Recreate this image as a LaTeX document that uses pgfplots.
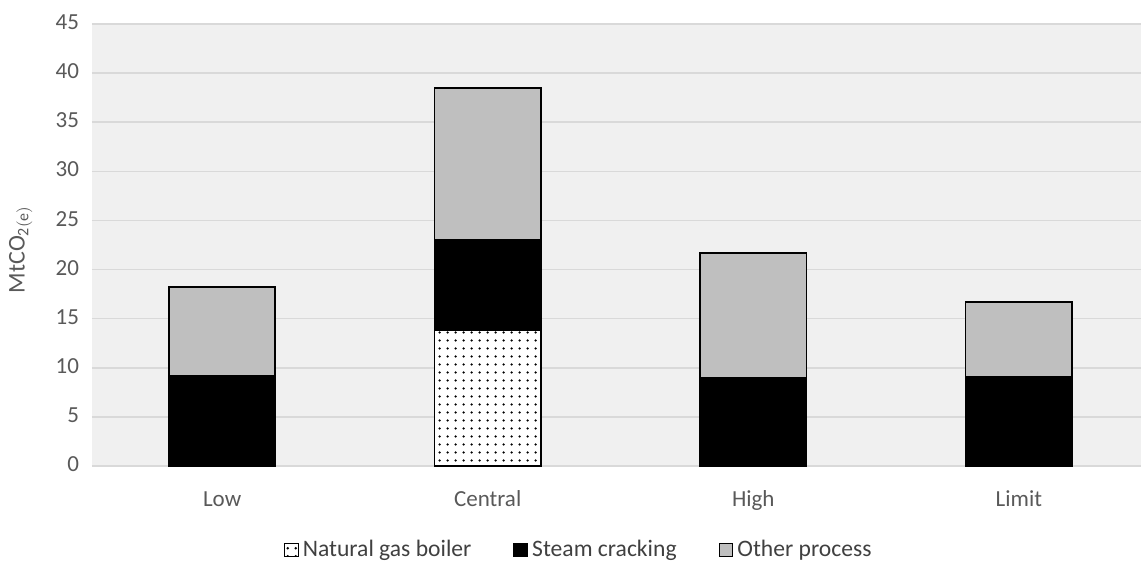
\documentclass[border=0pt]{standalone}
\usepackage{fontspec}
\setmainfont{Carlito}
\usepackage{pgfplots}
\pgfplotsset{compat=1.18}
\usetikzlibrary{patterns.meta}
\definecolor{bg}{HTML}{F0F0F0}
\definecolor{gridc}{HTML}{D9D9D9}
\definecolor{txt}{HTML}{595959}
\definecolor{other}{HTML}{BFBFBF}
\begin{document}
\begin{tikzpicture}
\path[use as bounding box] (-46pt,-48.5pt) rectangle (524.5pt,233pt);
\begin{axis}[
  at={(0,0)}, anchor=south west,
  scale only axis,
  width=524.5pt, height=221pt,
  ybar stacked,
  bar width=0.4,
  xmin=-0.49, xmax=3.46,
  ymin=0, ymax=45,
  ytick={0,5,...,45},
  xtick={0,1,2,3},
  xticklabels={Low,Central,High,Limit},
  typeset ticklabels with strut,
  axis background/.style={fill=bg},
  ymajorgrids,
  grid style={gridc, line width=0.75pt},
  axis line style={draw=none},
  major tick style={draw=none},
  tick label style={font=\fontsize{11.5}{14}\selectfont, text=txt},
  /pgf/number format/assume math mode=true,
  yticklabel style={xshift=-3pt},
  xticklabel style={yshift=-7pt},
  ylabel={MtCO$_{\mathrm{2(e)}}$},
  ylabel style={font=\fontsize{12}{14}\selectfont, text=txt, at={(axis description cs:-0.068,0.49)}, anchor=center, rotate=0},
  legend columns=-1,
  legend style={draw=none, fill=none, at={(0.465,-0.19)}, anchor=center,
    font=\fontsize{11.8}{14}\selectfont, text=black!75,
    /tikz/every even column/.append style={column sep=19pt}},
  legend image code/.code={\draw[#1, line width=0.6pt] (0pt,-3.4pt) rectangle (6.8pt,3.4pt);},
]
\addplot[draw=black, line width=0.75pt, fill=white, postaction={pattern={Dots[distance=4pt,radius=0.7pt]}}]
  coordinates {(0,0) (1,13.85) (2,0) (3,0)};
\addplot[draw=black, line width=0.75pt, fill=black]
  coordinates {(0,9.15) (1,9.15) (2,8.95) (3,9.05)};
\addplot[draw=black, line width=0.75pt, fill=other]
  coordinates {(0,9.05) (1,15.5) (2,12.75) (3,7.65)};
\legend{Natural gas boiler, Steam cracking, Other process}
\end{axis}
\end{tikzpicture}
\end{document}
